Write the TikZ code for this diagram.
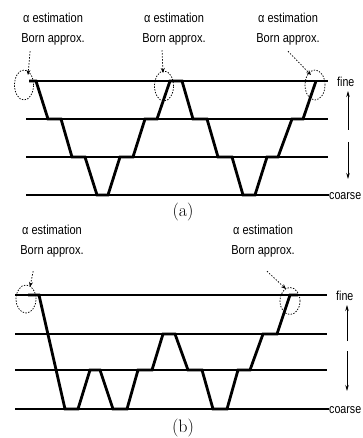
\documentclass[tikz,border=0pt]{standalone}
\usepackage{fontspec}
\newfontfamily\labfont{Liberation Sans}[FakeStretch=0.85]
\newfontfamily\sidefont{Liberation Sans}[FakeStretch=0.82]
\usetikzlibrary{arrows.meta,shapes.geometric}
\begin{document}
\begin{tikzpicture}[x=1pt,y=-1pt,
  level/.style={line width=1.1pt},
  trace/.style={line width=2.8pt, line join=miter},
  loop/.style={draw, ellipse, dash pattern=on 1.4pt off 1.4pt, line width=0.75pt, inner sep=0pt, minimum width=19pt, minimum height=30pt},
  ptr/.style={dash pattern=on 1.4pt off 1.6pt, line width=0.75pt, -{Stealth[length=5pt,width=4pt]}},
  dirarrow/.style={line width=0.7pt, -{Stealth[length=6pt,width=3.5pt]}},
  lbl/.style={align=center, font=\labfont\fontsize{13}{20}\selectfont, inner sep=0pt},
  capt/.style={font=\fontsize{18}{18}\selectfont, inner sep=0pt},
  side/.style={font=\sidefont\fontsize{13}{13}\selectfont, inner sep=0pt, anchor=west}]
\useasboundingbox (0,0) rectangle (362,438);

% ---------- panel (a) ----------
\draw[level] (29,81) -- (328,81);
\draw[level] (26,119) -- (328,119);
\draw[level] (26,157) -- (328,157);
\draw[level] (26,195) -- (329,195);
\draw[trace] (29,81) -- (36,81) -- (48,119) -- (61,119) -- (72,157) -- (85,157)
  -- (97,195) -- (108,195) -- (120,157) -- (133,157) -- (145,119) -- (157,119)
  -- (170,81) -- (182,81) -- (193,119) -- (207,119) -- (218,157) -- (232,157)
  -- (243,195) -- (255,195) -- (267,157) -- (278,157) -- (292,119) -- (303,119)
  -- (316,81);

\node[loop] (cA1) at (24,85) {};
\node[loop] (cA2) at (164,86) {};
\node[loop, minimum width=20pt] (cA3) at (315,85) {};
\coordinate (tA1) at (28,75);
\coordinate (tA2) at (163,73);
\coordinate (tA3) at (311,75);

\node[lbl] (lA1) at (53,29) {α estimation\\Born approx.};
\node[lbl] (lA2) at (174,29) {α estimation\\Born approx.};
\node[lbl] (lA3) at (288,29) {α estimation\\Born approx.};
\draw[ptr] ([xshift=9pt,yshift=-6pt]lA1.south west) -- (tA1);
\draw[ptr] ([xshift=-12pt,yshift=-5pt]lA2.south) -- (tA2);
\draw[ptr] ([yshift=-6pt]lA3.south) -- (tA3);

\node[side] (fA) at (337,82) {fine};
\node[side] (kA) at (329,196) {coarse};
\coordinate (uA0) at (348,130);
\coordinate (uA1) at (348,91);
\coordinate (dA0) at (348,142);
\coordinate (dA1) at (348,179);
\draw[dirarrow] (uA0) -- (uA1);
\draw[dirarrow] (dA0) -- (dA1);

\node[capt] (capA) at (183,212) {(a)};

% ---------- panel (b) ----------
\draw[level] (15,295) -- (327,295);
\draw[level] (15,334) -- (327,334);
\draw[level] (15,370) -- (327,370);
\draw[level] (15,409) -- (329,409);
\draw[trace] (28,295) -- (39,295) -- (65,409) -- (78,409) -- (90,370) -- (100,370)
  -- (113,409) -- (127,409) -- (138,370) -- (152,370) -- (163,334) -- (175,334)
  -- (188,370) -- (202,370) -- (213,409) -- (227,409) -- (238,370) -- (250,370)
  -- (263,334) -- (277,334) -- (290,295) -- (298,295);

\node[loop, minimum width=20pt, minimum height=28pt] (cB1) at (26,299) {};
\node[loop, minimum width=20pt, minimum height=27pt] (cB2) at (290,301) {};
\coordinate (tB1) at (30,287);
\coordinate (tB2) at (286,289);

\node[lbl] (lB1) at (52,241) {α estimation\\Born approx.};
\node[lbl] (lB2) at (263,241) {α estimation\\Born approx.};
\draw[ptr] ([xshift=13pt,yshift=-14pt]lB1.south west) -- (tB1);
\draw[ptr] ([xshift=4pt,yshift=-14pt]lB2.south) -- (tB2);

\node[side] (fB) at (336,296) {fine};
\node[side] (kB) at (329,410) {coarse};
\coordinate (uB0) at (347,341);
\coordinate (uB1) at (347,305);
\coordinate (dB0) at (347,351);
\coordinate (dB1) at (347,391);
\draw[dirarrow] (uB0) -- (uB1);
\draw[dirarrow] (dB0) -- (dB1);

\node[capt] (capB) at (183,428) {(b)};
\end{tikzpicture}
\end{document}
